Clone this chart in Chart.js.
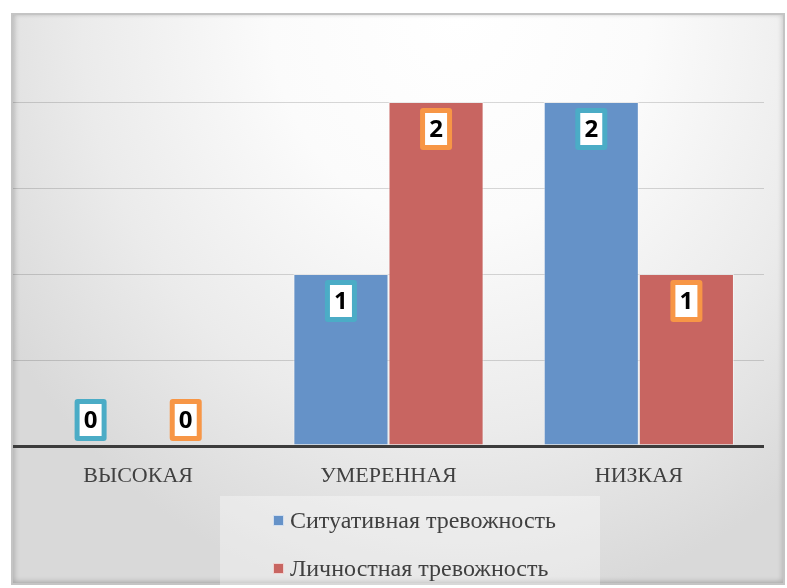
<!DOCTYPE html>
<html>
<head>
<meta charset="utf-8">
<script src="https://cdn.jsdelivr.net/npm/chart.js@4.4.0/dist/chart.umd.min.js"></script>
<style>
  html, body { margin: 0; padding: 0; width: 787px; height: 588px; overflow: hidden; background: #fff; }
  #frame {
    position: absolute; left: 11px; top: 13px; width: 770px; height: 568px;
    border: 2px solid #c4c4c4;
    background: radial-gradient(ellipse 70% 105% at 58% 0%, #ffffff 0%, #fbfbfb 35%, #ebebeb 70%, #d9d9d9 100%);
    box-shadow: inset 3px 0 4px rgba(0,0,0,0.10), inset 0 -3px 4px rgba(0,0,0,0.10), inset -3px 0 4px rgba(0,0,0,0.06);
  }
  #wrap { position: absolute; left: 0; top: 0; width: 787px; height: 588px; }
</style>
</head>
<body>
<div id="frame"></div>
<div id="wrap"><canvas id="anxietyChart"></canvas></div>
<script>
const categories = ['ВЫСОКАЯ', 'УМЕРЕННАЯ', 'НИЗКАЯ'];
const seriesNames = ['Ситуативная тревожность', 'Личностная тревожность'];
const situational = [0, 1, 2];
const personal = [0, 2, 1];
const yTicks = [0, 0.5, 1, 1.5, 2];

const barColors = ['#6592c8', '#c86561'];
const labelBorders = ['#4bacc6', '#f79646'];
const serif = "'Liberation Serif', 'Times New Roman', serif";

// value boxes like the Excel data labels
const valueBoxes = {
  id: 'valueBoxes',
  afterDraw(chart) {
    const c = chart.ctx;
    chart.data.datasets.forEach((ds, di) => {
      chart.getDatasetMeta(di).data.forEach((bar, i) => {
        const w = 32, h = 42;
        const x = bar.x - w / 2;
        let y = bar.y + 6;
        if (bar.base - bar.y < h + 10) y = bar.base - 5 - h;
        c.save();
        c.fillStyle = labelBorders[di];
        c.beginPath();
        c.roundRect(x, y, w, h, 3);
        c.fill();
        c.fillStyle = '#ffffff';
        c.fillRect(x + 5, y + 5, w - 10, h - 10);
        c.fillStyle = '#000000';
        c.font = "bold 24px 'Open Sans', sans-serif";
        c.textAlign = 'center';
        c.textBaseline = 'middle';
        c.fillText(String(ds.data[i]), bar.x, y + h / 2 + 1);
        c.restore();
      });
    });
  }
};

// two-row legend below the axis
const stackedLegend = {
  id: 'stackedLegend',
  afterDraw(chart) {
    const c = chart.ctx;
    c.save();
    c.fillStyle = 'rgba(255,255,255,0.35)';
    c.fillRect(220, 496, 380, 90);
    c.font = '24px ' + serif;
    c.textBaseline = 'middle';
    chart.data.datasets.forEach((ds, di) => {
      const y = 521 + di * 48;
      c.fillStyle = ds.backgroundColor;
      c.fillRect(273, y - 6, 11, 11);
      c.strokeStyle = 'rgba(255,255,255,0.7)';
      c.lineWidth = 1;
      c.strokeRect(273.5, y - 5.5, 10, 10);
      c.fillStyle = '#404040';
      c.fillText(ds.label, 290, y + 1);
    });
    c.restore();
  }
};

new Chart(document.getElementById('anxietyChart'), {
  type: 'bar',
  data: {
    labels: categories,
    datasets: [
      { label: seriesNames[0], data: situational, backgroundColor: barColors[0], borderColor: 'rgba(255,255,255,0.45)', borderWidth: 1 },
      { label: seriesNames[1], data: personal, backgroundColor: barColors[1], borderColor: 'rgba(255,255,255,0.45)', borderWidth: 1 }
    ]
  },
  options: {
    responsive: true,
    maintainAspectRatio: false,
    animation: false,
    layout: { padding: { left: 13, right: 23, top: 102, bottom: 0 } },
    datasets: { bar: { barPercentage: 1, categoryPercentage: 0.76 } },
    plugins: {
      legend: { display: false },
      tooltip: { enabled: false }
    },
    scales: {
      x: {
        grid: { display: false },
        border: { display: false },
        ticks: { color: '#404040', font: { family: serif, size: 22 }, padding: 9 },
        afterFit: s => { s.height = 142; }
      },
      y: {
        min: 0,
        max: 2,
        z: 1,
        afterBuildTicks: s => { s.ticks = yTicks.map(v => ({ value: v })); },
        ticks: { display: false },
        border: { display: false },
        grid: {
          drawTicks: false,
          color: ctx => ctx.tick.value === 0 ? '#3c3c3c' : 'rgba(0,0,0,0.15)',
          lineWidth: ctx => ctx.tick.value === 0 ? 3 : 1
        },
        afterFit: s => { s.width = 0; }
      }
    }
  },
  plugins: [valueBoxes, stackedLegend]
});
</script>
</body>
</html>
